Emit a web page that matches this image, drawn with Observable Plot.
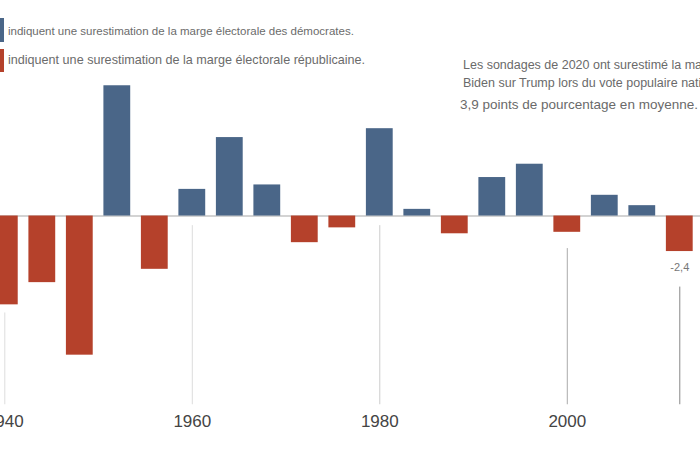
<!DOCTYPE html>
<html>
<head>
<meta charset="utf-8">
<script src="https://cdn.jsdelivr.net/npm/d3@7"></script>
<script src="https://cdn.jsdelivr.net/npm/@observablehq/plot@0.6"></script>
<style>
  html, body { margin: 0; padding: 0; background: #fff; }
  #wrap { position: relative; width: 700px; height: 450px; overflow: hidden; font-family: "Liberation Sans", Arial, sans-serif; }
  #wrap svg { position: absolute; left: 0; top: 0; }
  .lg { position: absolute; left: 8px; font-size: 11.5px; color: #6b6b6b; white-space: nowrap; line-height: 16px; }
  .sw { position: absolute; left: 0; width: 4px; }
  .ann { position: absolute; left: 463px; font-size: 12.5px; color: #6a6a6a; white-space: nowrap; line-height: 18px; }
</style>
</head>
<body>
<div id="wrap"></div>
<script>
// Election years and polling error (points; + = Democratic margin overestimated)
const years  = [1940, 1944, 1948, 1952, 1956, 1960, 1964, 1968, 1972, 1976, 1980, 1984, 1988, 1992, 1996, 2000, 2004, 2008, 2012];
const errors = [-6.0, -4.5, -9.4,  8.8, -3.6,  1.8,  5.3,  2.1, -1.8, -0.8,  5.9,  0.45, -1.2, 2.6,  3.5, -1.1,  1.4,  0.7, -2.4];
const tickYears  = [1940, 1960, 1980, 2000];
const tickLabels = ["1940", "1960", "1980", "2000"];
const ruleYears  = [1940, 1960, 1980, 2000, 2012];
const labelYear  = 2012;
const labelText  = "-2,4";
const legendTexts = [
  "indiquent une surestimation de la marge électorale des démocrates.",
  "indiquent une surestimation de la marge électorale républicaine."
];
const annotationLines = [
  "Les sondages de 2020 ont surestimé la marge de",
  "Biden sur Trump lors du vote populaire national de",
  "3,9 points de pourcentage en moyenne."
];

const BLUE = "#4a6688", RED = "#b5412b";
const data = years.map((y, i) => ({year: y, v: errors[i]}));
const valueOf = y => data.find(d => d.year === y).v;
const half = 1.43;

const ruleGap = {1940: 0.55, 1960: 0.65, 1980: 0.65, 2000: 1.1, 2012: 2.4};
const ruleColor = {1940: "#ddd", 1960: "#ddd", 1980: "#ccc", 2000: "#aaa", 2012: "#888"};
const rules = ruleYears.map(y => ({year: y, y1: Math.min(valueOf(y), 0) - ruleGap[y], y2: -12.75, c: ruleColor[y]}));

const chart = Plot.plot({
  width: 700,
  height: 450,
  marginTop: 0, marginBottom: 0, marginLeft: 0, marginRight: 0,
  x: {type: "linear", domain: [1939.54, 2014.21], axis: null},
  y: {domain: [-15.84, 14.56], axis: null},
  style: {fontFamily: "Liberation Sans, Arial, sans-serif", background: "transparent"},
  marks: [
    Plot.ruleY([0], {stroke: "#c4c4c4", strokeWidth: 1.5}),
    Plot.ruleX(rules, {x: "year", y1: "y1", y2: "y2", stroke: "c", strokeWidth: 1}),
    Plot.rectY(data, {
      x1: d => d.year - half, x2: d => d.year + half,
      y1: 0, y2: "v",
      fill: d => d.v >= 0 ? BLUE : RED
    }),
    Plot.text(tickYears, {x: d => d, y: -13.9, text: (d, i) => tickLabels[i], fontSize: 17, fill: "#444"}),
    Plot.text([labelYear], {x: d => d, y: d => valueOf(d) - 1.05, text: () => labelText, fontSize: 11, fill: "#777"})
  ]
});

const wrap = document.getElementById("wrap");
wrap.appendChild(chart);

const sw1 = document.createElement("div"); sw1.className = "sw"; sw1.style.top = "18px"; sw1.style.height = "24px"; sw1.style.background = BLUE; wrap.appendChild(sw1);
const sw2 = document.createElement("div"); sw2.className = "sw"; sw2.style.top = "49px"; sw2.style.height = "23px"; sw2.style.background = RED; wrap.appendChild(sw2);
[[23, 11.5], [52, 12.6]].forEach(([t, fs], i) => {
  const d = document.createElement("div"); d.className = "lg"; d.style.top = t + "px"; d.style.fontSize = fs + "px"; d.textContent = legendTexts[i]; wrap.appendChild(d);
});
[[56, 463, 12.5], [74, 463, 12.5], [96, 460, 13.5]].forEach(([t, l, fs], i) => {
  const d = document.createElement("div"); d.className = "ann"; d.style.top = t + "px"; d.style.left = l + "px"; d.style.fontSize = fs + "px"; d.textContent = annotationLines[i]; wrap.appendChild(d);
});
</script>
</body>
</html>
